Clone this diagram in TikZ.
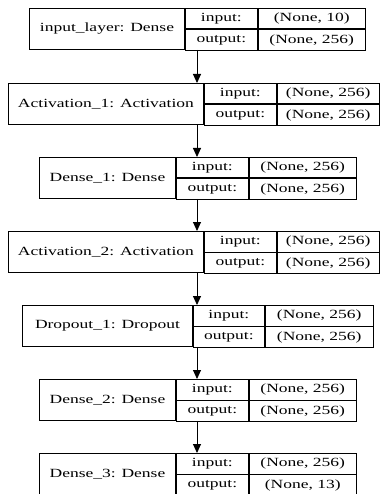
\documentclass[tikz,border=0pt]{standalone}
\usepackage{fontspec}
\setmainfont{Liberation Serif}[FakeStretch=1.4]
\usetikzlibrary{arrows.meta,positioning}

\begin{document}
\begin{tikzpicture}[x=1pt,y=-1pt,
		cell/.style={draw,rectangle,line width=0.9pt,inner sep=0pt,anchor=north west,
			minimum height=20.5pt,font=\fontsize{12.5}{14}\selectfont},
		namecell/.style={cell,minimum height=41pt},
		flow/.style={-{Triangle[length=9pt,width=8pt]},line width=0.9pt}]
		\useasboundingbox (0,0) rectangle (381,494);
		\coordinate (axis) at (197,0);
		% input_layer
		\node[namecell,minimum width=155pt] (inlayer) at (29,8) {input\_layer: Dense};
		\node[cell,minimum width=72pt] (inlayer-in) at (inlayer.north east) {input:};
		\node[cell,minimum width=107pt] (inlayer-inval) at (inlayer-in.north east) {(None, 10)};
		\node[cell,minimum width=72pt] (inlayer-out) at (inlayer-in.south west) {output:};
		\node[cell,minimum width=107pt] (inlayer-outval) at (inlayer-out.north east) {(None, 256)};
		% Activation_1
		\node[namecell,minimum width=195pt] (act1) at (8,83) {Activation\_1: Activation};
		\node[cell,minimum width=72pt] (act1-in) at (act1.north east) {input:};
		\node[cell,minimum width=102pt] (act1-inval) at (act1-in.north east) {(None, 256)};
		\node[cell,minimum width=72pt] (act1-out) at (act1-in.south west) {output:};
		\node[cell,minimum width=102pt] (act1-outval) at (act1-out.north east) {(None, 256)};
		% Dense_1
		\node[namecell,minimum width=136pt] (dense1) at (39,157) {Dense\_1: Dense};
		\node[cell,minimum width=72pt] (dense1-in) at (dense1.north east) {input:};
		\node[cell,minimum width=107pt] (dense1-inval) at (dense1-in.north east) {(None, 256)};
		\node[cell,minimum width=72pt] (dense1-out) at (dense1-in.south west) {output:};
		\node[cell,minimum width=107pt] (dense1-outval) at (dense1-out.north east) {(None, 256)};
		% Activation_2
		\node[namecell,minimum width=195pt] (act2) at (8,231) {Activation\_2: Activation};
		\node[cell,minimum width=72pt] (act2-in) at (act2.north east) {input:};
		\node[cell,minimum width=102pt] (act2-inval) at (act2-in.north east) {(None, 256)};
		\node[cell,minimum width=72pt] (act2-out) at (act2-in.south west) {output:};
		\node[cell,minimum width=102pt] (act2-outval) at (act2-out.north east) {(None, 256)};
		% Dropout_1
		\node[namecell,minimum width=170pt] (drop1) at (22,305) {Dropout\_1: Dropout};
		\node[cell,minimum width=71pt] (drop1-in) at (drop1.north east) {input:};
		\node[cell,minimum width=108pt] (drop1-inval) at (drop1-in.north east) {(None, 256)};
		\node[cell,minimum width=71pt] (drop1-out) at (drop1-in.south west) {output:};
		\node[cell,minimum width=108pt] (drop1-outval) at (drop1-out.north east) {(None, 256)};
		% Dense_2
		\node[namecell,minimum width=136pt] (dense2) at (39,379) {Dense\_2: Dense};
		\node[cell,minimum width=72pt] (dense2-in) at (dense2.north east) {input:};
		\node[cell,minimum width=107pt] (dense2-inval) at (dense2-in.north east) {(None, 256)};
		\node[cell,minimum width=72pt] (dense2-out) at (dense2-in.south west) {output:};
		\node[cell,minimum width=107pt] (dense2-outval) at (dense2-out.north east) {(None, 256)};
		% Dense_3
		\node[namecell,minimum width=136pt] (dense3) at (39,453) {Dense\_3: Dense};
		\node[cell,minimum width=72pt] (dense3-in) at (dense3.north east) {input:};
		\node[cell,minimum width=107pt] (dense3-inval) at (dense3-in.north east) {(None, 256)};
		\node[cell,minimum width=72pt] (dense3-out) at (dense3-in.south west) {output:};
		\node[cell,minimum width=107pt] (dense3-outval) at (dense3-out.north east) {(None, 13)};
		% connectors
		\draw[flow] (axis |- inlayer.south) -- (axis |- act1.north);
		\draw[flow] (axis |- act1.south) -- (axis |- dense1.north);
		\draw[flow] (axis |- dense1.south) -- (axis |- act2.north);
		\draw[flow] (axis |- act2.south) -- (axis |- drop1.north);
		\draw[flow] (axis |- drop1.south) -- (axis |- dense2.north);
		\draw[flow] (axis |- dense2.south) -- (axis |- dense3.north);
	\end{tikzpicture}
\end{document}
